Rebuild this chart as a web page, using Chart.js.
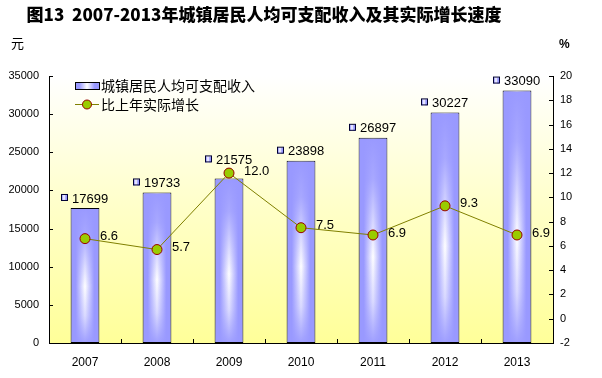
<!DOCTYPE html>
<html>
<head>
<meta charset="utf-8">
<script src="https://cdn.jsdelivr.net/npm/chart.js@4/dist/chart.umd.min.js"></script>
<style>
  html, body { margin: 0; padding: 0; background: #fff; }
  #wrap { width: 602px; height: 378px; position: relative; }
</style>
</head>
<body>
<div id="wrap"><canvas id="c" width="602" height="378"></canvas></div>
<script>
// ── Data ──
const YEARS   = ["2007", "2008", "2009", "2010", "2011", "2012", "2013"];
const INCOME  = [17699, 19733, 21575, 23898, 26897, 30227, 33090];
const GROWTH  = [6.6, 5.7, 12.0, 7.5, 6.9, 9.3, 6.9];
const GROWTH_TXT = ["6.6", "5.7", "12.0", "7.5", "6.9", "9.3", "6.9"];

const TITLE     = "图13  2007-2013年城镇居民人均可支配收入及其实际增长速度";
const LEFT_UNIT = "元";
const RIGHT_UNIT = "%";
const BAR_LABEL  = "城镇居民人均可支配收入";
const LINE_LABEL = "比上年实际增长";

const NUM_FONT = "'Liberation Sans', Arial, sans-serif";
const CJK_FONT = "'Noto Sans CJK SC', 'Noto Sans', sans-serif";

const BAR_BLUE = "#9999ff";

// horizontal blue-white-blue fill for one bar
function barGradient(ctx, x, w) {
  if (!isFinite(x) || !isFinite(w) || w <= 0) return BAR_BLUE;
  const g = ctx.createLinearGradient(x - w / 2, 0, x + w / 2, 0);
  g.addColorStop(0,    BAR_BLUE);
  g.addColorStop(0.18, BAR_BLUE);
  g.addColorStop(0.5,  "#ffffff");
  g.addColorStop(0.82, BAR_BLUE);
  g.addColorStop(1,    BAR_BLUE);
  return g;
}

/* ================================================================
   PLUGINS
   ================================================================ */
const bgPlugin = {
  id: "bg",
  beforeDraw(chart) {
    const { ctx, chartArea: a } = chart;
    const g = ctx.createLinearGradient(0, a.top, 0, a.bottom);
    g.addColorStop(0, "#ffffff");
    g.addColorStop(0.5, "#ffffc8");
    g.addColorStop(1, "#ffff99");
    ctx.save();
    ctx.fillStyle = g;
    ctx.fillRect(a.left, a.top, a.right - a.left, a.bottom - a.top);
    ctx.restore();
  }
};

// vertical shading on the bars so the white core fades out at top/bottom
const barShade = {
  id: "barShade",
  afterDatasetDraw(chart, args) {
    if (args.index !== 0) return;
    const ctx = chart.ctx;
    const meta = chart.getDatasetMeta(0);
    ctx.save();
    meta.data.forEach(bar => {
      const top = bar.y, bot = bar.base;
      const g = ctx.createLinearGradient(0, top, 0, bot);
      g.addColorStop(0,    "rgba(153,153,255,1)");
      g.addColorStop(0.2,  "rgba(153,153,255,0.85)");
      g.addColorStop(0.58, "rgba(153,153,255,0)");
      g.addColorStop(0.8,  "rgba(153,153,255,0.35)");
      g.addColorStop(1,    "rgba(153,153,255,0.95)");
      ctx.fillStyle = g;
      const w = bar.width - 2;
      ctx.fillRect(bar.x - w / 2, top + 1, w, bot - top - 2);
    });
    ctx.restore();
  }
};

const decor = {
  id: "decor",
  afterDraw(chart) {
    const { ctx, chartArea: a, scales } = chart;
    const x = scales.x, y = scales.y, y1 = scales.y1;
    ctx.save();

    // inward tick marks
    ctx.strokeStyle = "#000";
    ctx.lineWidth = 1;
    ctx.beginPath();
    y.ticks.forEach(t => {
      const py = Math.round(y.getPixelForValue(t.value)) + 0.5;
      ctx.moveTo(a.left, py); ctx.lineTo(a.left + 4, py);
    });
    y1.ticks.forEach(t => {
      const py = Math.round(y1.getPixelForValue(t.value)) + 0.5;
      ctx.moveTo(a.right, py); ctx.lineTo(a.right - 4, py);
    });
    for (let i = 1; i < YEARS.length; i++) {
      const px = Math.round((x.getPixelForValue(i - 1) + x.getPixelForValue(i)) / 2) + 0.5;
      ctx.moveTo(px, a.bottom); ctx.lineTo(px, a.bottom - 4);
    }
    ctx.stroke();

    // title + unit captions
    ctx.fillStyle = "#000";
    ctx.textBaseline = "middle";
    ctx.textAlign = "center";
    ctx.font = "900 17px " + CJK_FONT;
    ctx.fillText(TITLE, 264, 15);
    ctx.textAlign = "left";
    ctx.font = "13px " + CJK_FONT;
    ctx.fillText(LEFT_UNIT, 11, 43);
    ctx.font = "bold 12px " + NUM_FONT;
    ctx.fillText(RIGHT_UNIT, 559, 45);

    // legend
    const lx = 75;
    ctx.fillStyle = barGradient(ctx, lx + 12, 24);
    ctx.fillRect(lx, 83, 24, 6);
    ctx.strokeStyle = "#000";
    ctx.strokeRect(lx + 0.5, 82.5, 24, 7);
    ctx.strokeStyle = "#808000";
    ctx.beginPath();
    ctx.moveTo(lx, 104.5); ctx.lineTo(lx + 24, 104.5);
    ctx.stroke();
    ctx.beginPath();
    ctx.arc(lx + 12, 104.5, 4.5, 0, Math.PI * 2);
    ctx.fillStyle = "#99cc00"; ctx.fill();
    ctx.strokeStyle = "#990000"; ctx.stroke();
    ctx.fillStyle = "#000";
    ctx.font = "14px " + CJK_FONT;
    ctx.fillText(BAR_LABEL, 101, 86);
    ctx.fillText(LINE_LABEL, 101, 105);

    // value labels
    const barMeta = chart.getDatasetMeta(0);
    const lineMeta = chart.getDatasetMeta(1);
    ctx.font = "13px " + NUM_FONT;
    barMeta.data.forEach((bar, i) => {
      const txt = String(INCOME[i]);
      const tw = ctx.measureText(txt).width;
      const total = 6 + 5 + tw;
      let cy = bar.y - 10;
      const pt = lineMeta.data[i];
      if (Math.abs(pt.y - bar.y) < 14) cy -= 9;   // dodge the line label
      const sx = Math.round(bar.x - total / 2);
      ctx.fillStyle = barGradient(ctx, sx + 3, 6);
      ctx.fillRect(sx, cy - 3, 6, 6);
      ctx.strokeStyle = "#000033";
      ctx.strokeRect(sx + 0.5, cy - 3.5, 6, 6);
      ctx.fillStyle = "#000";
      ctx.fillText(txt, sx + 11, cy + 1);
    });
    lineMeta.data.forEach((pt, i) => {
      ctx.fillText(GROWTH_TXT[i], pt.x + 15, pt.y - 2);
    });

    ctx.restore();
  }
};

/* ================================================================
   CHART
   ================================================================ */
new Chart(document.getElementById("c"), {
  type: "bar",
  data: {
    labels: YEARS,
    datasets: [
      {
        label: BAR_LABEL,
        data: INCOME,
        yAxisID: "y",
        order: 2,
        backgroundColor: (c) => {
          const xs = c.chart.scales.x;
          if (!xs) return BAR_BLUE;
          const w = (xs.getPixelForValue(1) - xs.getPixelForValue(0)) * 0.4;
          return barGradient(c.chart.ctx, xs.getPixelForValue(c.dataIndex), w);
        },
        borderColor: "#000",
        borderWidth: 1,
        borderSkipped: false,
        categoryPercentage: 1,
        barPercentage: 0.4
      },
      {
        type: "line",
        label: LINE_LABEL,
        data: GROWTH,
        yAxisID: "y1",
        order: 1,
        borderColor: "#808000",
        borderWidth: 1,
        pointRadius: 5,
        pointBackgroundColor: "#99cc00",
        pointBorderColor: "#990000",
        pointBorderWidth: 1,
        tension: 0
      }
    ]
  },
  options: {
    responsive: false,
    animation: false,
    layout: { padding: { top: 76, left: 0, right: 0, bottom: 0 } },
    plugins: { legend: { display: false }, tooltip: { enabled: false } },
    scales: {
      x: {
        grid: { display: false, drawTicks: false },
        border: { color: "#000" },
        ticks: { color: "#000", font: { family: NUM_FONT, size: 12 }, padding: 12 },
        afterFit: s => { s.height = 35; }
      },
      y: {
        position: "left",
        min: 0, max: 35000,
        grid: { display: false, drawTicks: false },
        border: { color: "#000" },
        ticks: {
          stepSize: 5000, color: "#000", font: { family: NUM_FONT, size: 11 }, padding: 10,
          callback: v => String(v)
        },
        afterFit: s => { s.width = 49; }
      },
      y1: {
        position: "right",
        min: -2, max: 20,
        grid: { display: false, drawTicks: false },
        border: { color: "#000" },
        ticks: {
          stepSize: 2, color: "#000", font: { family: NUM_FONT, size: 11 }, padding: 7,
          callback: v => String(v)
        },
        afterFit: s => { s.width = 49; }
      }
    }
  },
  plugins: [bgPlugin, barShade, decor]
});
</script>
</body>
</html>
